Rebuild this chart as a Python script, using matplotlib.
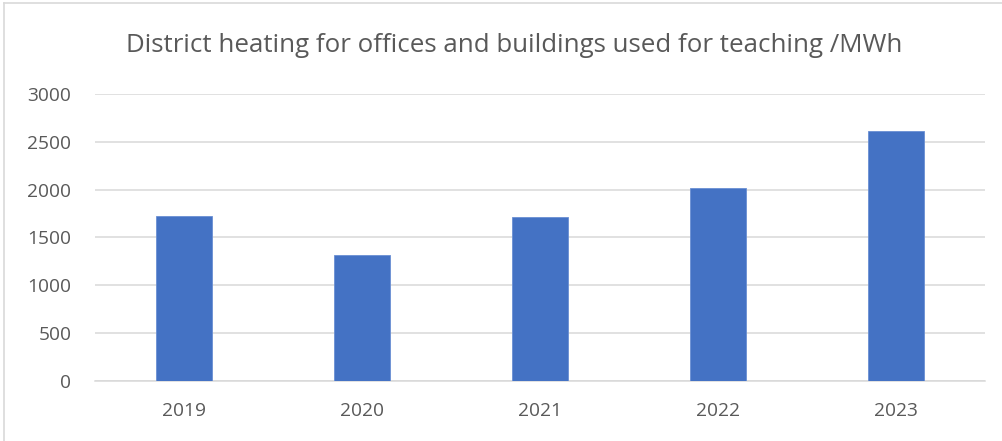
import matplotlib
matplotlib.use("Agg")
import matplotlib.pyplot as plt

years = ["2019", "2020", "2021", "2022", "2023"]
heating_mwh = [1720, 1315, 1712, 2020, 2608]
y_ticks = [0, 500, 1000, 1500, 2000, 2500, 3000]

BAR = "#4472C4"
GRID = "#D9D9D9"
TXT = "#595959"

fig = plt.figure(figsize=(10.02, 4.41), dpi=100)
ax = fig.add_axes([0.0948, 0.136, 0.888, 0.651])

x = range(len(years))
ax.bar(x, heating_mwh, width=0.315, color=BAR, edgecolor="#6A8FD3", linewidth=0.6, zorder=3)

ax.set_xlim(-0.5, len(years) - 0.5)
ax.set_ylim(0, 3000)
ax.set_yticks(y_ticks)
ax.set_yticklabels([str(t) for t in y_ticks])
ax.set_xticks(list(x))
ax.set_xticklabels(years)
ax.yaxis.grid(True, color=GRID, linewidth=1.1, zorder=0)
for s in ["top", "right", "left"]:
    ax.spines[s].set_visible(False)
ax.spines["bottom"].set_color(GRID)
ax.spines["bottom"].set_linewidth(1.1)
ax.tick_params(axis="both", length=0, labelcolor=TXT, labelsize=13.8, labelfontfamily="Open Sans")
ax.tick_params(axis="y", pad=17)
ax.tick_params(axis="x", pad=15)

fig.text(0.513, 0.897, "District heating for offices and buildings used for teaching /MWh",
         ha="center", va="center", fontsize=18.6, color=TXT, family="Open Sans")

# chart frame (only top and left edges visible in the reference)
fig.add_artist(plt.Line2D([0.004, 0.004], [0, 0.993], color=GRID, linewidth=1.2, transform=fig.transFigure))
fig.add_artist(plt.Line2D([0.004, 1.0], [0.993, 0.993], color=GRID, linewidth=1.2, transform=fig.transFigure))

fig.savefig("out.png", dpi=100)
